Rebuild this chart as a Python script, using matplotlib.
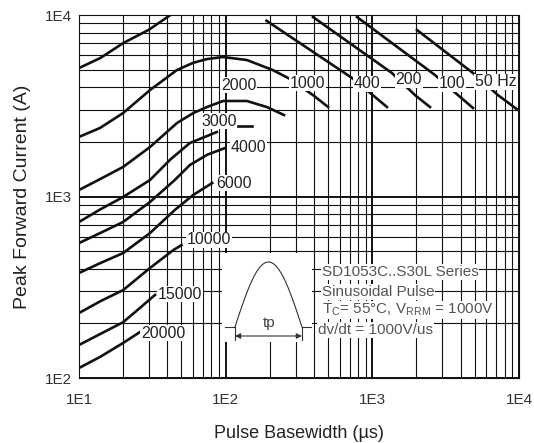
import matplotlib.pyplot as plt
import numpy as np
from matplotlib.ticker import LogLocator, FuncFormatter, NullFormatter

plt.rcParams['font.family'] = ['Liberation Sans', 'DejaVu Sans']

# pulse basewidth (us) vs peak forward current (A)
w_400_rise = [10, 14, 20, 30, 42]
i_400_rise = [5100, 5800, 7000, 8300, 10000]
w_400 = [190, 727, 1043, 1259]
i_400 = [9300, 4500, 3535, 3112]
w_200 = [394, 1361, 1954, 2473]
i_200 = [9750, 4790, 3620, 3112]
w_100 = [786, 2675, 3837, 4856]
i_100 = [9750, 4670, 3620, 3075]
w_50 = [2016, 4856, 7190, 9840]
i_50 = [8270, 4790, 3620, 2997]
w_1000 = [10, 13.9, 20, 30.5, 46.6, 60, 74.6, 95.9, 139.5, 209, 275, 394, 500]
i_1000 = [2130, 2385, 2884, 3860, 4980, 5450, 5720, 5870, 5650, 4980, 4440, 3620, 3112]
w_2000 = [10, 14, 20, 30.5, 46.6, 60, 74.6, 95.9, 139.5, 191, 250]
i_2000 = [1086, 1250, 1455, 1874, 2541, 2880, 3112, 3360, 3360, 3112, 2812]
w_3000 = [10, 14, 20, 30.5, 42, 57, 87]
i_3000 = [724, 850, 994, 1233, 1600, 1971, 2266]
w_4000 = [10, 14, 20, 30.5, 45, 57, 75, 99]
i_4000 = [554, 630, 724, 933, 1233, 1491, 1700, 1850]
w_6000 = [10, 14, 20, 30.5, 45, 60, 81]
i_6000 = [379, 430, 488, 629, 843, 1019, 1187]
w_10000 = [10, 14, 20, 30.5, 44, 50]
i_10000 = [228, 265, 305, 404, 507, 540]
w_15000 = [10, 14, 20, 26, 33]
i_15000 = [152, 175, 203, 243, 287]
w_20000 = [10, 14, 20, 26]
i_20000 = [113.5, 131, 156, 179]

curves = [(w_400_rise, i_400_rise), (w_400, i_400), (w_200, i_200),
          (w_100, i_100), (w_50, i_50), (w_1000, i_1000), (w_2000, i_2000),
          (w_3000, i_3000), (w_4000, i_4000), (w_6000, i_6000),
          (w_10000, i_10000), (w_15000, i_15000), (w_20000, i_20000)]

# curve labels: text, x, y
labels = ['2000', '3000', '4000', '6000', '10000', '15000', '20000',
          '1000', '400', '200', '100', '50 Hz']
label_x = [123, 90, 144, 114, 77, 48.8, 37.4, 364, 919, 1778, 3490, 6970]
label_y = [4115, 2606, 1874, 1187, 576, 290, 177, 4220, 4170, 4385, 4170, 4280]

fig = plt.figure(figsize=(5.34, 4.43), dpi=100)
ax = fig.add_axes([0.1479, 0.1467, 0.824, 0.8194])
ax.set_xscale('log')
ax.set_yscale('log')
ax.set_xlim(10, 10000)
ax.set_ylim(100, 10000)

ax.xaxis.set_minor_locator(LogLocator(base=10, subs=np.arange(2, 10)))
ax.yaxis.set_minor_locator(LogLocator(base=10, subs=np.arange(2, 10)))
ax.xaxis.set_minor_formatter(NullFormatter())
ax.yaxis.set_minor_formatter(NullFormatter())
fmt = FuncFormatter(lambda v, p: '1E%d' % round(np.log10(v)))
ax.xaxis.set_major_formatter(fmt)
ax.yaxis.set_major_formatter(fmt)
ax.tick_params(which='both', length=0, labelsize=11, colors='#333333')
ax.tick_params(axis='x', pad=11)
ax.tick_params(axis='y', pad=5)

ax.grid(True, which='major', color='#111111', linewidth=1.4)
ax.grid(True, which='minor', color='#111111', linewidth=0.8)
for s in ax.spines.values():
    s.set_color('#111111')
    s.set_linewidth(0.8)

for w, i in curves:
    ax.plot(w, i, color='#111111', linewidth=1.9, zorder=3)

# short dash after the 3000 label
ax.plot([121.4, 151], [2445, 2445], color='#111111', linewidth=1.9, zorder=5)

for t, x, y in zip(labels, label_x, label_y):
    ax.text(x, y, t, fontsize=11.5, color='#222222', ha='center', va='center',
            zorder=4, bbox=dict(facecolor='white', edgecolor='none', pad=0.6))

box = dict(facecolor='white', edgecolor='none', pad=0.4)
ax.text(454, 384, 'SD1053C..S30L Series', fontsize=11, color='#555555',
        va='center', zorder=4, bbox=box)
ax.text(454, 298, 'Sinusoidal Pulse', fontsize=11, color='#555555',
        va='center', zorder=4, bbox=box)
ax.text(454, 237, r'T$_\mathregular{C}$= 55°C, V$_\mathregular{RRM}$ = 1000V',
        fontsize=11, color='#555555', va='center', zorder=4, bbox=box)
ax.text(426, 184, 'dv/dt = 1000V/us', fontsize=11, color='#555555',
        va='center', zorder=4, bbox=box)

ax.set_xlabel('Pulse Basewidth (µs)', fontsize=13, color='#222222', labelpad=13)
ax.set_ylabel('Peak Forward Current (A)', fontsize=14, color='#222222',
              labelpad=10)

# pulse shape sketch
ins = fig.add_axes([0.4157, 0.228, 0.1685, 0.2009])
ins.set_xlim(0, 90)
ins.set_ylim(0, 89)
ins.axis('off')
ins.add_patch(plt.Rectangle((0, 0), 90, 89, facecolor='white',
                            edgecolor='none'))
t = np.linspace(0, np.pi, 100)
ins.plot(13 + 67 * t / np.pi, 15 + 65 * np.sin(t), color='#333333',
         linewidth=0.8)
ins.plot([3, 13], [15, 15], color='#333333', linewidth=0.8)
ins.plot([80, 90], [15, 15], color='#333333', linewidth=0.8)
ins.plot([13, 13], [2, 15], color='#333333', linewidth=0.8)
ins.plot([80, 80], [2, 15], color='#333333', linewidth=0.8)
ins.annotate('', xy=(13, 6), xytext=(80, 6),
             arrowprops=dict(arrowstyle='<|-|>', color='#333333', lw=0.8,
                             mutation_scale=8, shrinkA=0, shrinkB=0))
ins.text(47, 19, 'tp', fontsize=11, color='#444444', ha='center', va='center')

fig.savefig('out.png', dpi=100)
